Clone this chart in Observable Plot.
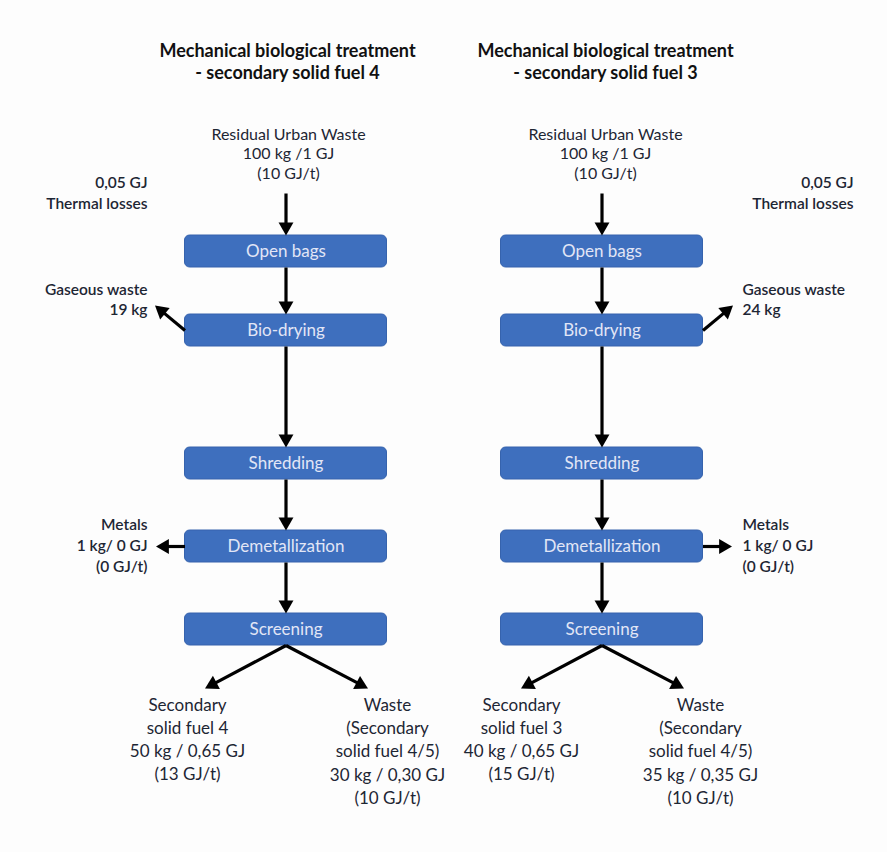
<!DOCTYPE html>
<html>
<head>
<meta charset="utf-8">
<script src="https://cdn.jsdelivr.net/npm/d3@7"></script>
<script src="https://cdn.jsdelivr.net/npm/@observablehq/plot@0.6"></script>
<style>
  html, body { margin: 0; padding: 0; background: #fdfdfd; }
  #chart { width: 887px; height: 852px; }
</style>
</head>
<body>
<div id="chart"></div>
<script>
// ---- Data (text content of the flow diagram) ----
const panelTitles = [
  "Mechanical biological treatment\n- secondary solid fuel 4",
  "Mechanical biological treatment\n- secondary solid fuel 3"
];
const inputLabels = [
  "Residual Urban Waste\n100 kg /1 GJ\n(10 GJ/t)",
  "Residual Urban Waste\n100 kg /1 GJ\n(10 GJ/t)"
];
const steps = ["Open bags", "Bio-drying", "Shredding", "Demetallization", "Screening"];
const thermalLosses = ["0,05 GJ\nThermal losses", "0,05 GJ\nThermal losses"];
const gaseousWaste = ["Gaseous waste\n19 kg", "Gaseous waste\n24 kg"];
const metals = ["Metals\n1 kg/ 0 GJ\n(0 GJ/t)", "Metals\n1 kg/ 0 GJ\n(0 GJ/t)"];
const fuelOutputs = [
  "Secondary\nsolid fuel 4\n50 kg / 0,65 GJ\n(13 GJ/t)",
  "Secondary\nsolid fuel 3\n40 kg / 0,65 GJ\n(15 GJ/t)"
];
const wasteOutputs = [
  "Waste\n(Secondary\nsolid fuel 4/5)\n30 kg / 0,30 GJ\n(10 GJ/t)",
  "Waste\n(Secondary\nsolid fuel 4/5)\n35 kg / 0,35 GJ\n(10 GJ/t)"
];

// ---- Layout ----
const panelCx = [285.5, 601.5];
const titleCx = [287, 605];
const stepTop = [235, 314, 447, 530, 613];
const boxH = 32, boxHalfW = 101;
const sideLeft = 147, sideRight = 742, sideRightEdge = 853;
const fuelCx = [187, 521], wasteCx = [387, 700];

const boxes = [];
panelCx.forEach((cx, p) => steps.forEach((s, i) => boxes.push({
  label: s, x1: cx - boxHalfW, x2: cx + boxHalfW, y1: stepTop[i], y2: stepTop[i] + boxH, cx, cy: stepTop[i] + boxH / 2
})));

const arrows = [];
panelCx.forEach((cx, p) => {
  const side = p === 0 ? -1 : 1;
  const edge = cx + side * boxHalfW;
  arrows.push({x1: cx, y1: 193, x2: cx, y2: stepTop[0]});
  for (let i = 0; i < steps.length - 1; i++) arrows.push({x1: cx, y1: stepTop[i] + boxH, x2: cx, y2: stepTop[i + 1]});
  // gaseous waste
  arrows.push({x1: edge, y1: stepTop[1] + 16, x2: edge + side * 30, y2: stepTop[1] - 9});
  // metals
  arrows.push({x1: edge, y1: stepTop[3] + 16, x2: edge + side * 29, y2: stepTop[3] + 16});
  // branches
  const by = stepTop[4] + boxH;
  arrows.push({x1: cx, y1: by, x2: cx - 81, y2: 688});
  arrows.push({x1: cx, y1: by, x2: cx + 82, y2: 688});
});

// arrow head geometry (d3 triangle symbol)
const hy = 4.3;
const headSize = hy * hy * 3 * Math.sqrt(3);
const headR = Math.sqrt(headSize / Math.PI);
const shafts = [], heads = [];
arrows.forEach(a => {
  const dx = a.x2 - a.x1, dy = a.y2 - a.y1, L = Math.hypot(dx, dy);
  const ux = dx / L, uy = dy / L;
  shafts.push({x1: a.x1, y1: a.y1, x2: a.x2 - ux * 3 * hy * 0.8, y2: a.y2 - uy * 3 * hy * 0.8});
  heads.push({x: a.x2 - ux * 2 * hy, y: a.y2 - uy * 2 * hy, rot: Math.atan2(dx, -dy) * 180 / Math.PI});
});

const ink = "#1d2634";
const sideFont = 15.5;

const chart = Plot.plot({
  width: 887,
  height: 852,
  margin: 0,
  x: {domain: [0, 887], range: [0, 887], axis: null},
  y: {domain: [0, 852], range: [0, 852], axis: null},
  style: {background: "#fdfdfd", fontFamily: "Lato, 'Open Sans', sans-serif"},
  marks: [
    Plot.rect(boxes, {x1: "x1", x2: "x2", y1: "y1", y2: "y2", rx: 5, fill: "#3e6fbe", stroke: "#3663ad", strokeWidth: 1}),
    Plot.text(boxes, {x: "cx", y: "cy", text: "label", fill: "#e2e6f6", fontSize: 17, lineAnchor: "middle"}),
    Plot.link(shafts, {x1: "x1", y1: "y1", x2: "x2", y2: "y2", stroke: "#000", strokeWidth: 3.2}),
    Plot.dot(heads, {x: "x", y: "y", symbol: "triangle", r: headR, rotate: "rot", fill: "#000", stroke: "none"}),
    // titles
    Plot.text(panelTitles, {x: (d, i) => titleCx[i], y: 60.5, text: d => d, fontSize: 18, fontWeight: "bold", fill: "#111", lineHeight: 1.2, lineAnchor: "middle"}),
    // inputs
    Plot.text(inputLabels, {x: (d, i) => titleCx[i] + (i === 0 ? 1 : 0), y: 152.5, text: d => d, fontSize: 16, fill: ink, lineHeight: 1.23, lineAnchor: "middle"}),
    // thermal losses
    Plot.text(thermalLosses.slice(0, 1), {x: sideLeft, y: 191.5, text: d => d, textAnchor: "end", fontSize: sideFont, fontWeight: 600, fill: ink, lineHeight: 1.33, lineAnchor: "middle"}),
    Plot.text(thermalLosses.slice(1), {x: sideRightEdge, y: 191.5, text: d => d, textAnchor: "end", fontSize: sideFont, fontWeight: 600, fill: ink, lineHeight: 1.33, lineAnchor: "middle"}),
    // gaseous waste
    Plot.text(gaseousWaste.slice(0, 1), {x: sideLeft, y: 298, text: d => d, textAnchor: "end", fontSize: sideFont, fontWeight: 600, fill: ink, lineHeight: 1.3, lineAnchor: "middle"}),
    Plot.text(gaseousWaste.slice(1), {x: sideRight, y: 298, text: d => d, textAnchor: "start", fontSize: sideFont, fontWeight: 600, fill: ink, lineHeight: 1.3, lineAnchor: "middle"}),
    // metals
    Plot.text(metals.slice(0, 1), {x: sideLeft, y: 544, text: d => d, textAnchor: "end", fontSize: sideFont, fontWeight: 600, fill: ink, lineHeight: 1.33, lineAnchor: "middle"}),
    Plot.text(metals.slice(1), {x: sideRight, y: 544, text: d => d, textAnchor: "start", fontSize: sideFont, fontWeight: 600, fill: ink, lineHeight: 1.33, lineAnchor: "middle"}),
    // outputs
    Plot.text(fuelOutputs, {x: (d, i) => fuelCx[i], y: 737.5, text: d => d, fontSize: 17, fill: ink, lineHeight: 1.36, lineAnchor: "middle"}),
    Plot.text(wasteOutputs, {x: (d, i) => wasteCx[i], y: 749.5, text: d => d, fontSize: 17, fill: ink, lineHeight: 1.36, lineAnchor: "middle"})
  ]
});
document.getElementById("chart").appendChild(chart);
</script>
</body>
</html>
